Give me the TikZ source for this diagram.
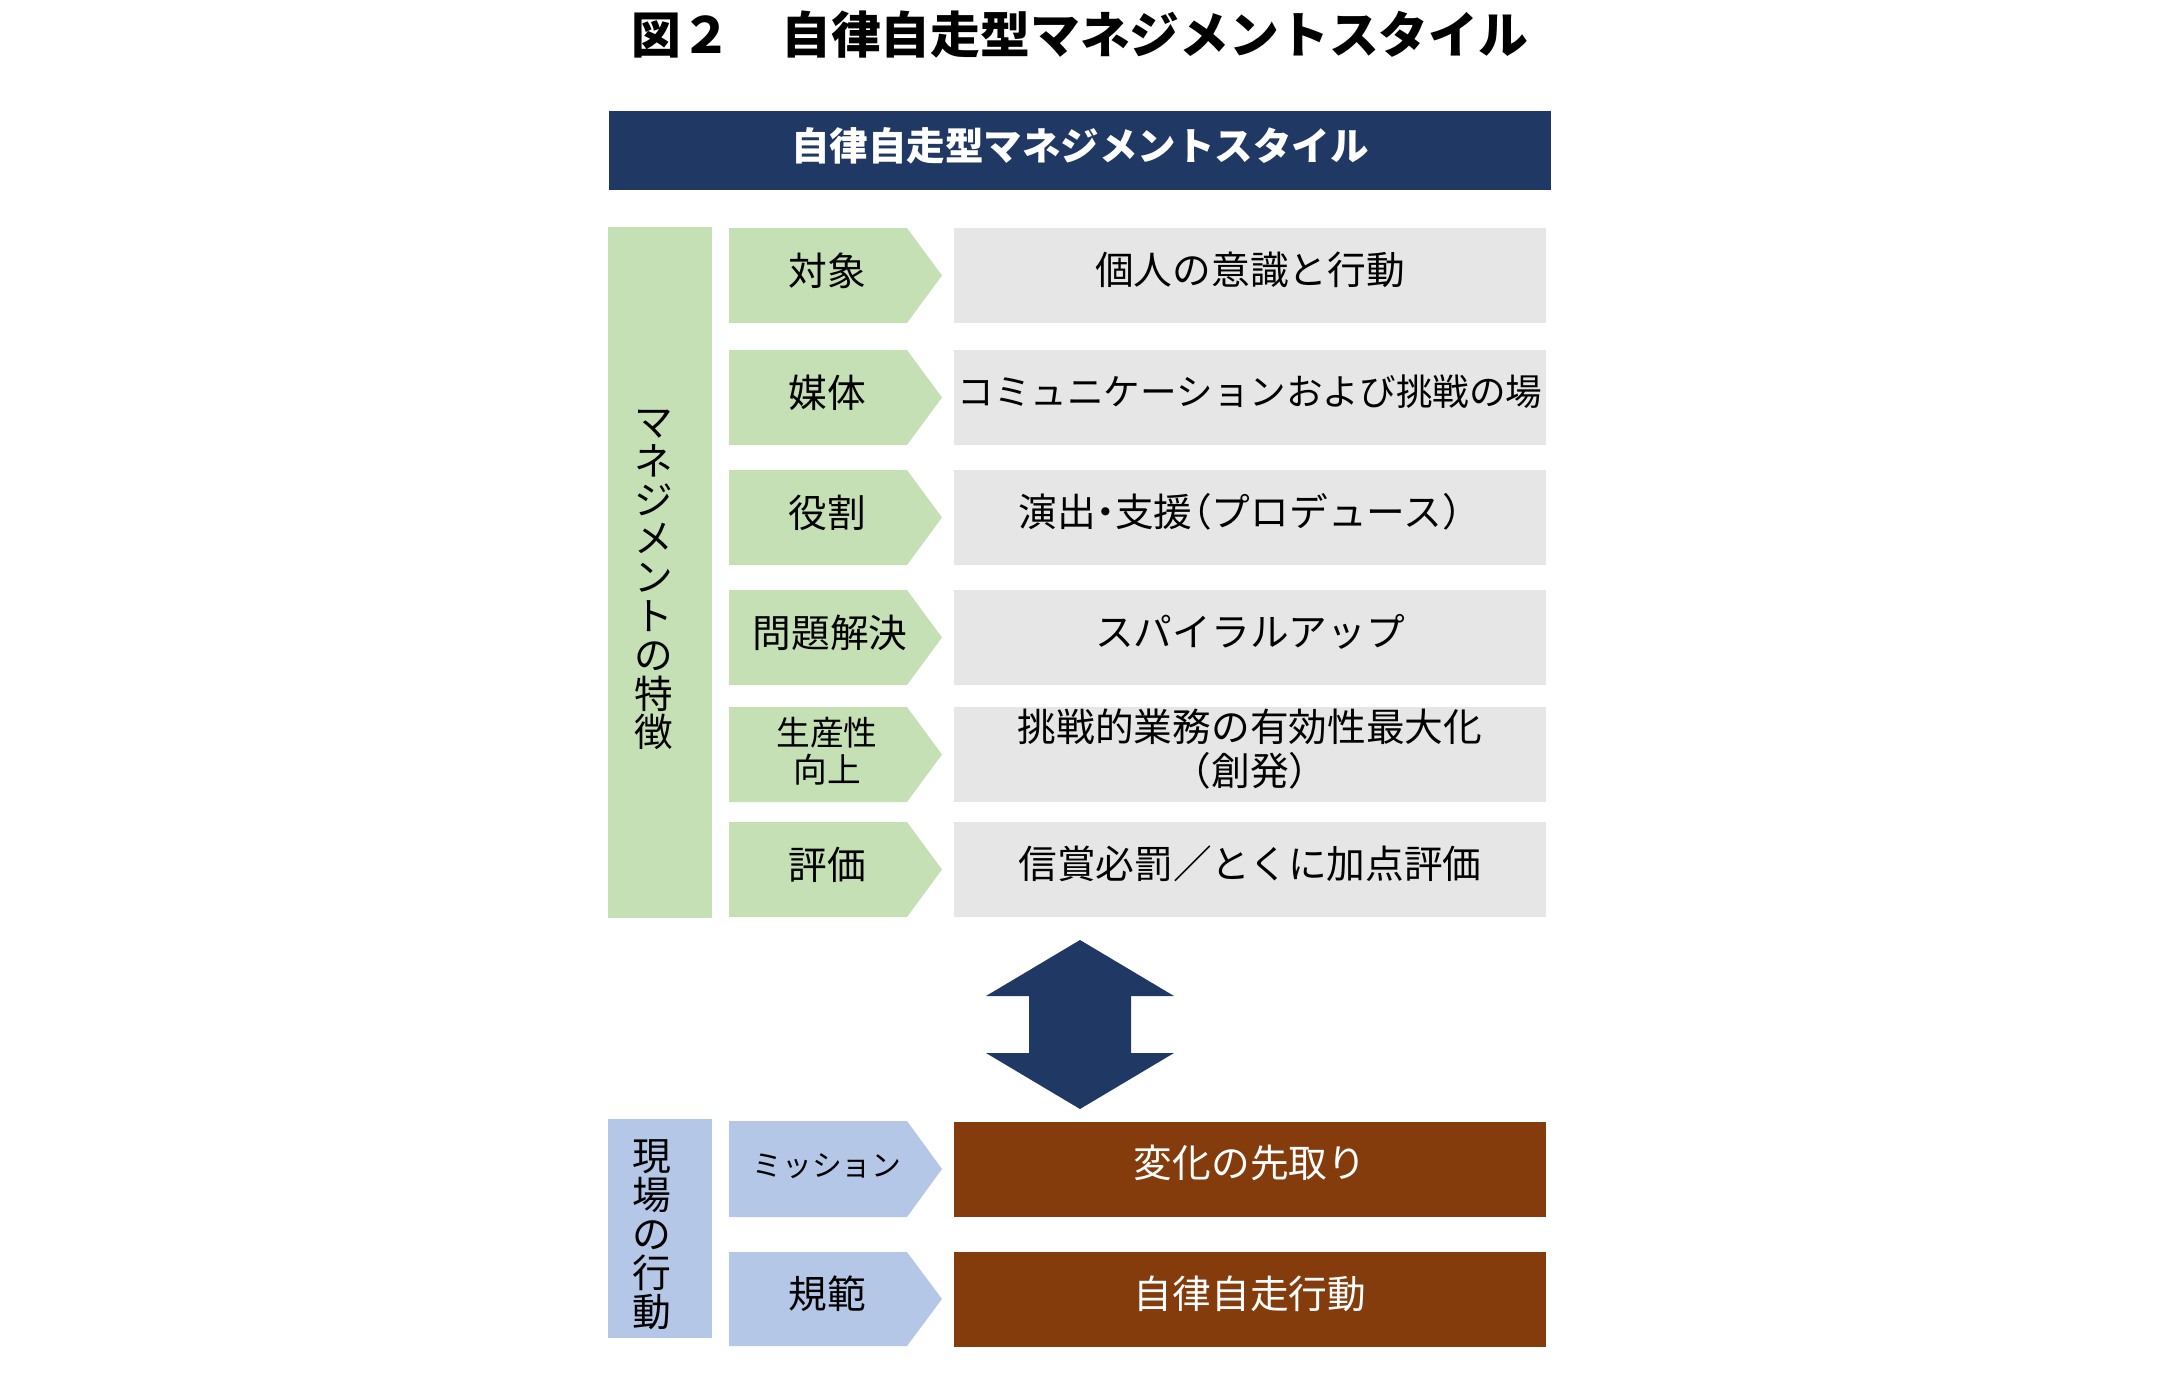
\documentclass[tikz,border=0pt]{standalone}
\usepackage{fontspec}
\setmainfont{Noto Sans CJK JP}

\definecolor{navy}{HTML}{203864}
\definecolor{leafgreen}{HTML}{C5E0B4}
\definecolor{boxgray}{HTML}{E7E6E6}
\definecolor{skyblue}{HTML}{B4C7E7}
\definecolor{rust}{HTML}{843C0C}

% pentagon tab left of each row: colour, top, bottom
\newcommand{\chevfill}[3]{\fill [#1] (729, #2) -- (907, #2) -- (942, {(#2+#3)/2}) -- (907, #3) -- (729, #3) -- cycle;}

\begin{document}
\begin{tikzpicture}
[x=0.5pt, y=-0.5pt, every node/.style={inner sep=0pt},
 rowbox/.style={rectangle, minimum width=296pt, minimum height=47.5pt, text depth=7.3pt, align=center, font=\fontsize{19.35pt}{22pt}\selectfont},
 graybox/.style={rowbox, fill=boxgray, text=black},
 brownbox/.style={rowbox, fill=rust, text=white},
 chevtext/.style={align=center, text=black, font=\fontsize{19.35pt}{22pt}\selectfont},
 sidebar/.style={rectangle, minimum width=52pt},
 sidetext/.style={align=center, text=black, font=\fontsize{19.3pt}{19.4pt}\selectfont}]

\useasboundingbox (0, 0) rectangle (2160, 1399);

% title and header
\node (title) [font=\fontsize{24.9pt}{30pt}\selectfont\bfseries] at (1080, 35) {図２　自律自走型マネジメントスタイル};
\node (head) [rectangle, fill=navy, text=white, minimum width=471pt, minimum height=39.5pt, text depth=6.3pt, font=\fontsize{19.25pt}{23pt}\selectfont\bfseries] at (1080, 150.5) {自律自走型マネジメントスタイル};

% management features
\node (feat) [sidebar, fill=leafgreen, minimum height=345.5pt] at (660, 572.5) {};
\node (feattext) [sidetext] at (654, 580) {マ\\ネ\\ジ\\メ\\ン\\ト\\の\\特\\徴};

\chevfill{leafgreen}{228}{323}
\chevfill{leafgreen}{350}{445}
\chevfill{leafgreen}{470}{565}
\chevfill{leafgreen}{590}{685}
\chevfill{leafgreen}{707}{802}
\chevfill{leafgreen}{822}{917}

\node (k1) [chevtext] at (827, 270.5) {対象};
\node (k2) [chevtext] at (827, 392.5) {媒体};
\node (k3) [chevtext] at (827, 512.5) {役割};
\node (k4) [chevtext] at (830, 632.5) {問題解決};
\node (k5) [chevtext, font=\fontsize{16.85pt}{18.5pt}\selectfont] at (827, 751) {生産性\\向上};
\node (k6) [chevtext] at (827, 864.5) {評価};

\node (b1) [graybox] at (1250, 275.5) {個人の意識と行動};
\node (b2) [graybox, font=\fontsize{18.3pt}{22pt}\selectfont] at (1250, 397.5) {コミュニケーションおよび挑戦の場};
\node (b3) [graybox, font=\fontsize{19.35pt}{22pt}\selectfont\addfontfeatures{RawFeature=+halt}] at (1250, 517.5) {\hspace*{-10pt}演出・支援（プロデュース）};
\node (b4) [graybox] at (1250, 637.5) {スパイラルアップ};
\node (b5) [graybox, font=\fontsize{19.35pt}{22pt}\selectfont\addfontfeatures{RawFeature=+halt}] at (1250, 754.5) {挑戦的業務の有効性最大化\\（創発）};
\node (b6) [graybox] at (1250, 869.5) {信賞必罰／とくに加点評価};

% two-way arrow
\fill [navy] (1080, 940) -- (1174, 996) -- (1131, 996) -- (1131, 1053) -- (1174, 1053) -- (1080, 1109) -- (986, 1053) -- (1029, 1053) -- (1029, 996) -- (986, 996) -- cycle;

% field behaviour
\node (act) [sidebar, fill=skyblue, minimum height=109.5pt] at (660, 1228.5) {};
\node (acttext) [sidetext, font=\fontsize{19.4pt}{19.5pt}\selectfont] at (652, 1235) {現\\場\\の\\行\\動};

\chevfill{skyblue}{1121}{1217}
\chevfill{skyblue}{1252}{1346}

\node (m1) [chevtext, font=\fontsize{14.9pt}{18pt}\selectfont] at (827, 1166) {ミッション};
\node (m2) [chevtext] at (827, 1294) {規範};

\node (r1) [brownbox] at (1250, 1169) {変化の先取り};
\node (r2) [brownbox] at (1250, 1299) {自律自走行動};
\end{tikzpicture}
\end{document}
